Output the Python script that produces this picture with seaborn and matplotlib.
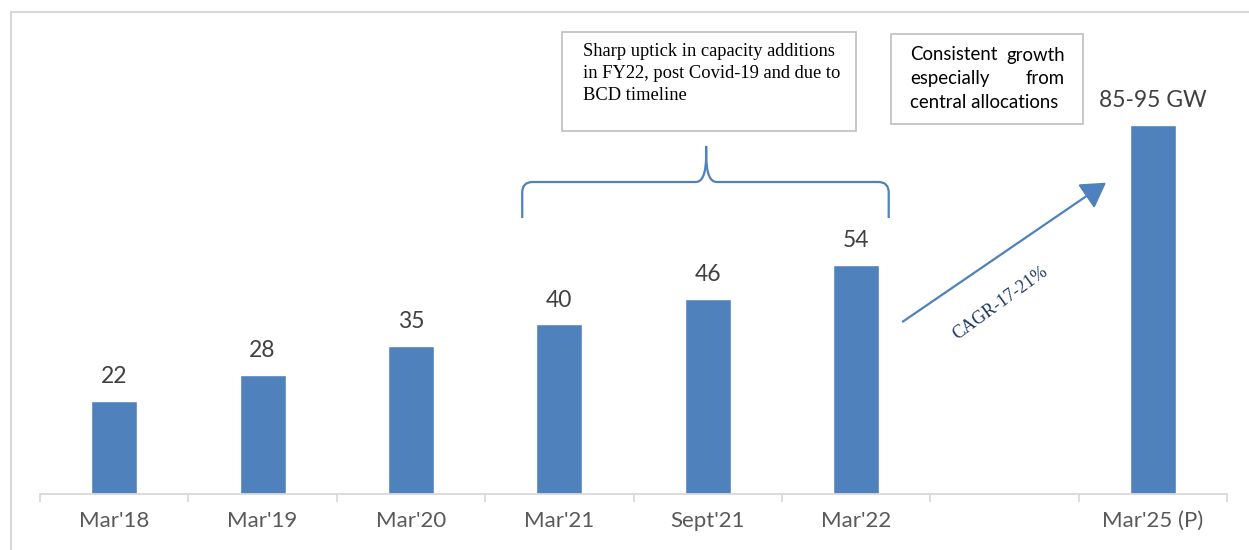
import numpy as np
import matplotlib
matplotlib.use("Agg")
import matplotlib.pyplot as plt
from matplotlib.patches import Rectangle, FancyArrowPatch, PathPatch
from matplotlib.path import Path
from matplotlib.lines import Line2D
import seaborn as sns

categories = ["Mar'18", "Mar'19", "Mar'20", "Mar'21", "Sept'21", "Mar'22", "", "Mar'25 (P)"]
capacity_gw = [22, 28, 35, 40, 46, 54, np.nan, 87]
value_labels = ["22", "28", "35", "40", "46", "54", "", "85-95 GW"]

BAR = "#4F81BD"
W, H = 1249, 550

sns.set_theme(style="white")
plt.rcParams["font.family"] = ["Lato", "DejaVu Sans"]

fig = plt.figure(figsize=(W / 100, H / 100), dpi=100)
ax = fig.add_axes([40 / W, 1 - 494 / H, (1227 - 40) / W, (494 - 12) / H])


def px(x, y):
    """Pixel position (top-left origin) to figure fraction."""
    return x / W, 1 - y / H


# outer frame lines (left and top)
fig.add_artist(Line2D([px(11, 0)[0]] * 2, [px(0, 12)[1], 0], color="#D9D9D9", lw=1.5))
fig.add_artist(Line2D([px(11, 0)[0], 1], [px(0, 12)[1]] * 2, color="#D9D9D9", lw=1.5))

sns.barplot(x=categories, y=capacity_gw, color=BAR, width=0.31, saturation=1, ax=ax)

ax.set_xlim(-0.5, len(categories) - 0.5)
ax.set_ylim(0, 113.7)
for s in ["top", "right", "left"]:
    ax.spines[s].set_visible(False)
ax.spines["bottom"].set_color("#D9D9D9")
ax.spines["bottom"].set_linewidth(1.3)
ax.set_yticks([])
ax.set_xticks(range(len(categories)))
ax.set_xticklabels(categories, fontsize=16, color="#595959")
ax.set_xticks(np.arange(-0.5, len(categories)), minor=True)
ax.tick_params(axis="x", which="major", length=0, pad=12)
ax.tick_params(axis="x", which="minor", length=6, width=1.3, color="#D9D9D9", bottom=True, direction="out")

# value labels above bars
for i, (v, lab) in enumerate(zip(capacity_gw, value_labels)):
    if lab:
        ax.annotate(lab, (i, v), xytext=(0, 10), textcoords="offset points",
                    ha="center", va="bottom", fontsize=16.5, color="#404040")

# curly brace over Mar'21 .. Mar'22
x0, x1, xm = 2.75, 5.22, 3.99
yb, yh, yt = 65.1, 73.6, 82.1
r = 0.07
verts = [
    (x0, yb), (x0, yh - 2.5), (x0, yh), (x0 + r, yh),
    (xm - r, yh), (xm, yh), (xm, yt - 2), (xm, yt),
]
codes = [Path.MOVETO, Path.LINETO, Path.CURVE3, Path.CURVE3,
         Path.LINETO, Path.CURVE3, Path.CURVE3, Path.LINETO]
ax.add_patch(PathPatch(Path(verts, codes), fill=False, ec=BAR, lw=1.6, zorder=5))
verts2 = [
    (x1, yb), (x1, yh - 2.5), (x1, yh), (x1 - r, yh),
    (xm + r, yh), (xm, yh), (xm, yt - 2), (xm, yt),
]
ax.add_patch(PathPatch(Path(verts2, codes), fill=False, ec=BAR, lw=1.6, zorder=5))

# growth arrow with CAGR note
ax.add_patch(FancyArrowPatch((5.30, 40.3), (6.70, 73.8), arrowstyle="-|>,head_length=10,head_width=6",
                             color=BAR, lw=1.6, mutation_scale=1.5))
ax.text(5.97, 45.0, "CAGR-17-21%", rotation=36, ha="center", va="center",
        fontsize=13, color="#1F3864", family=["Liberation Serif", "DejaVu Serif"],
        rotation_mode="anchor")

# note boxes
fig.add_artist(Rectangle(px(562, 131), 294 / W, 99 / H, transform=fig.transFigure,
                         fill=False, ec="#BFBFBF", lw=1.2))
serif_lines = ["Sharp uptick in capacity additions",
               "in FY22, post Covid-19 and due to",
               "BCD timeline"]
for k, line in enumerate(serif_lines):
    fig.text(*px(583, 52 + 22 * k), line, ha="left", va="center", fontsize=13.3,
             color="black", family=["Liberation Serif", "DejaVu Serif"])

fig.add_artist(Rectangle(px(891, 124), 192 / W, 90 / H, transform=fig.transFigure,
                         fill=False, ec="#BFBFBF", lw=1.2))
note_words = [("Consistent", "growth"), ("especially", "from")]
for k, (a, b) in enumerate(note_words):
    fig.text(*px(910, 55 + 23.5 * k), a, ha="left", va="center", fontsize=13.4, color="black")
    fig.text(*px(1065, 55 + 23.5 * k), b, ha="right", va="center", fontsize=13.4, color="black")
fig.text(*px(910, 102), "central allocations", ha="left", va="center", fontsize=13.4, color="black")

fig.savefig("out.png", dpi=100)
